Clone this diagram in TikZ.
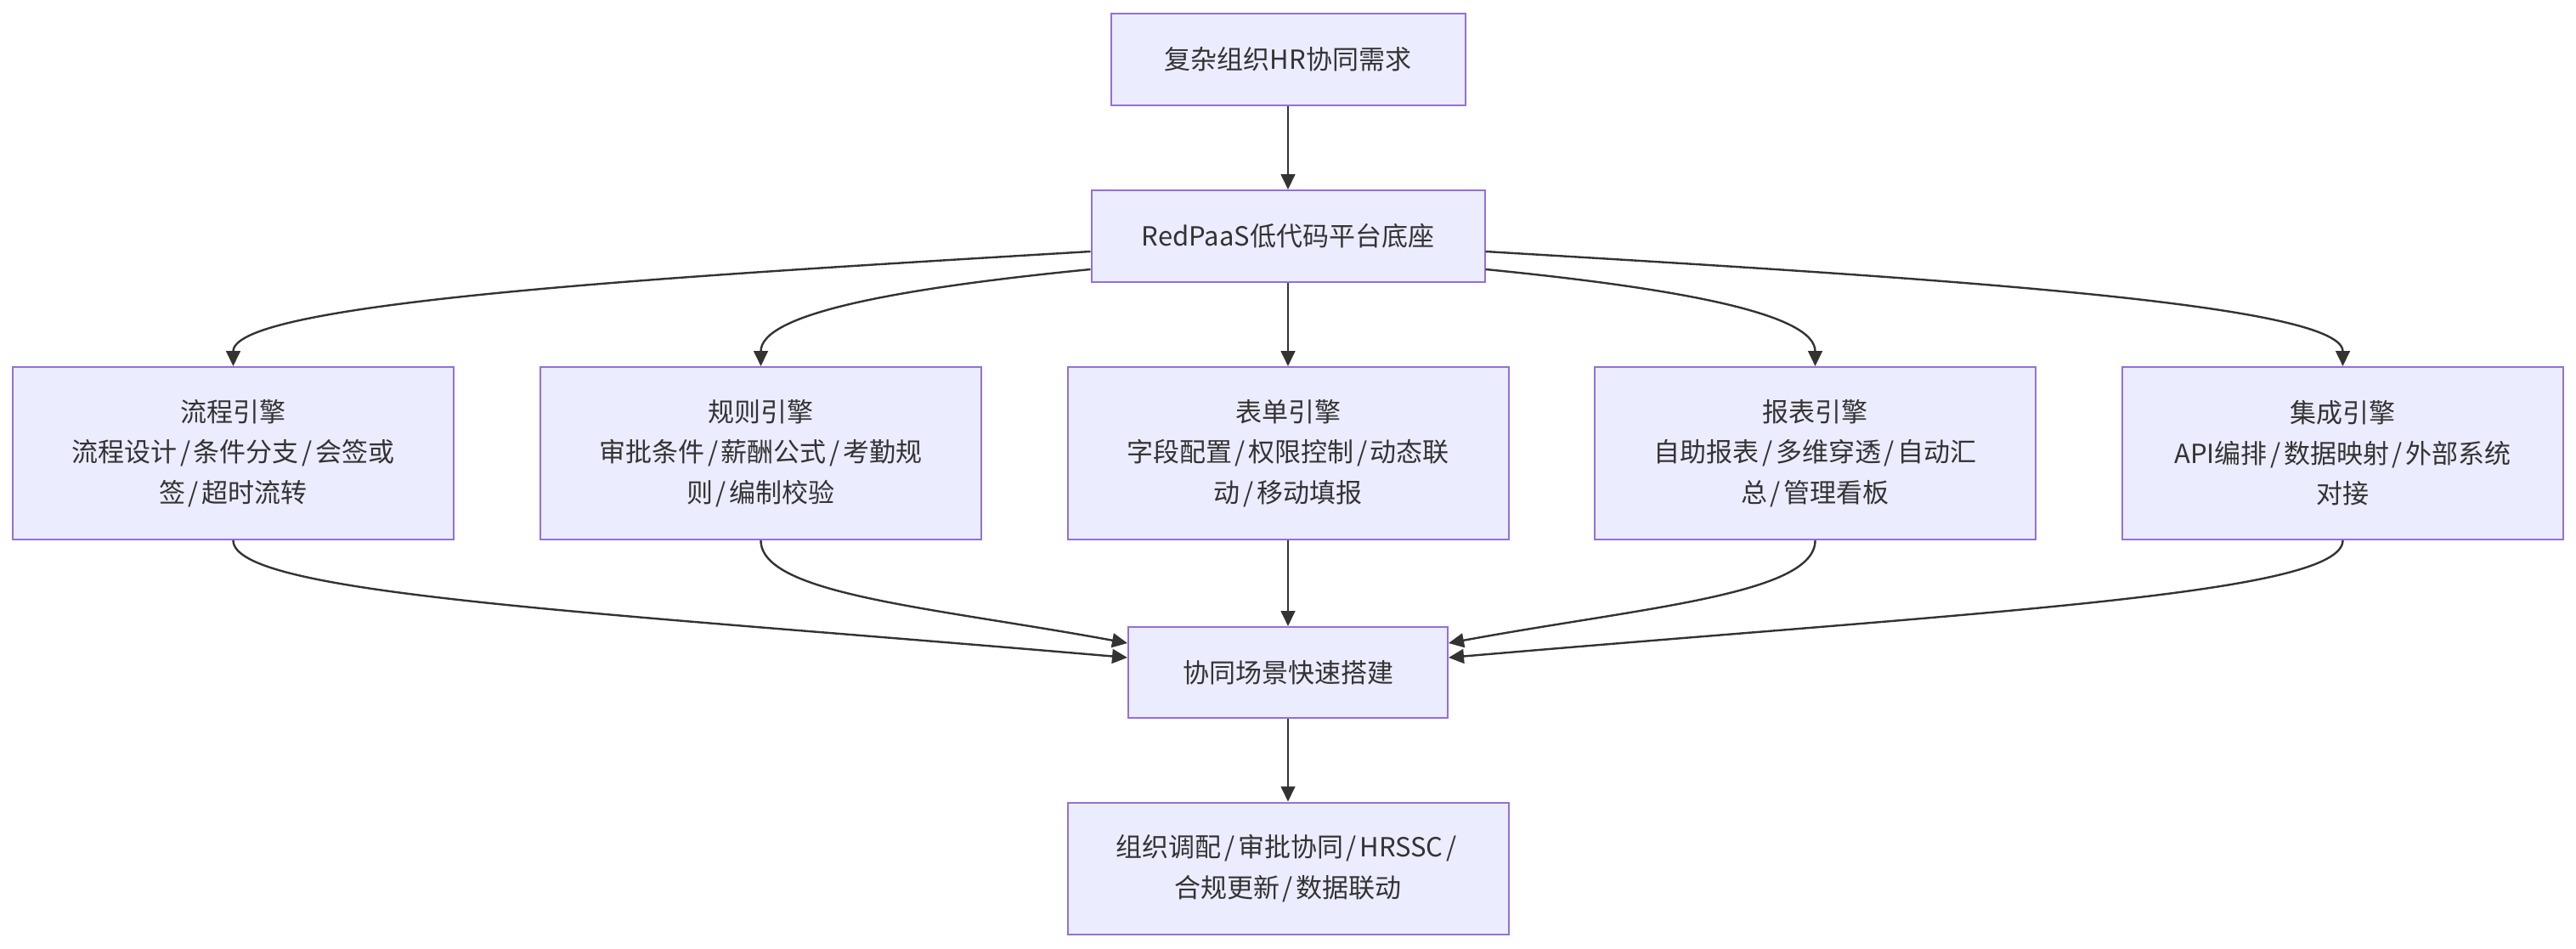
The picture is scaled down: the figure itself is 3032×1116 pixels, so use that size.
\documentclass[tikz,border=0pt]{standalone}
\usepackage{fontspec}
\setmainfont{Noto Sans CJK SC}
\usetikzlibrary{arrows.meta,calc}
\definecolor{boxfill}{HTML}{ECECFF}
\definecolor{boxdraw}{HTML}{9370DB}
\definecolor{ink}{HTML}{333333}
\newdimen\pxu
\pxu=0.25pt
\newcommand\sla{\kern0.9pt/\kern0.9pt}
\begin{document}
\begin{tikzpicture}[x=0.25pt,y=-0.25pt,
  box/.style={draw=boxdraw, fill=boxfill, line width=0.5pt, text=ink, align=center,
    inner sep=0pt, font=\fontsize{7.75pt}{11.9pt}\selectfont},
  link/.style={draw=ink, line width=0.6pt, -{Triangle[length=4.5pt,width=4.2pt]}}]
\useasboundingbox (0,0) rectangle (3032,1116);
\node[box, minimum width=417\pxu, minimum height=108\pxu] (top) at (1516,70) {复杂组织HR协同需求};
\node[box, minimum width=463\pxu, minimum height=108\pxu] (paas) at (1516,278) {RedPaaS低代码平台底座};
\node[box, minimum width=519\pxu, minimum height=203\pxu] (e1) at (274.5,533.5) {流程引擎\\流程设计\sla 条件分支\sla 会签或\\签\sla 超时流转};
\node[box, minimum width=519\pxu, minimum height=203\pxu] (e2) at (895.5,533.5) {规则引擎\\审批条件\sla 薪酬公式\sla 考勤规\\则\sla 编制校验};
\node[box, minimum width=519\pxu, minimum height=203\pxu] (e3) at (1516,533.5) {表单引擎\\字段配置\sla 权限控制\sla 动态联\\动\sla 移动填报};
\node[box, minimum width=519\pxu, minimum height=203\pxu] (e4) at (2136.5,533.5) {报表引擎\\自助报表\sla 多维穿透\sla 自动汇\\总\sla 管理看板};
\node[box, minimum width=519\pxu, minimum height=203\pxu] (e5) at (2757.5,533.5) {集成引擎\\API编排\sla 数据映射\sla 外部系统\\对接};
\node[box, minimum width=376\pxu, minimum height=107\pxu] (scene) at (1516,791.5) {协同场景快速搭建};
\node[box, minimum width=519\pxu, minimum height=155\pxu] (out) at (1516,1022) {组织调配\sla 审批协同\sla HRSSC\sla\\合规更新\sla 数据联动};

\draw[link] (top.south) -- (paas.north);
\draw[link] ($(paas.west)+(0,18)$) .. controls (800,325) and (274.5,355) .. (e1.north);
\draw[link] ($(paas.west)+(0,39)$) .. controls (1050,340) and (895.5,370) .. (e2.north);
\draw[link] (paas.south) -- (e3.north);
\draw[link] ($(paas.east)+(0,39)$) .. controls (1982,340) and (2136.5,370) .. (e4.north);
\draw[link] ($(paas.east)+(0,18)$) .. controls (2232,325) and (2757.5,355) .. (e5.north);

\draw[link] (e1.south) .. controls (274.5,700) and (700,720) .. ($(scene.west)+(0,-17.5)$);
\draw[link] (e2.south) .. controls (895.5,700) and (1100,715) .. ($(scene.west)+(0,-34.5)$);
\draw[link] (e3.south) -- (scene.north);
\draw[link] (e4.south) .. controls (2136.5,700) and (1932,715) .. ($(scene.east)+(0,-34.5)$);
\draw[link] (e5.south) .. controls (2757.5,700) and (2332,720) .. ($(scene.east)+(0,-17.5)$);
\draw[link] (scene.south) -- (out.north);
\end{tikzpicture}
\end{document}
